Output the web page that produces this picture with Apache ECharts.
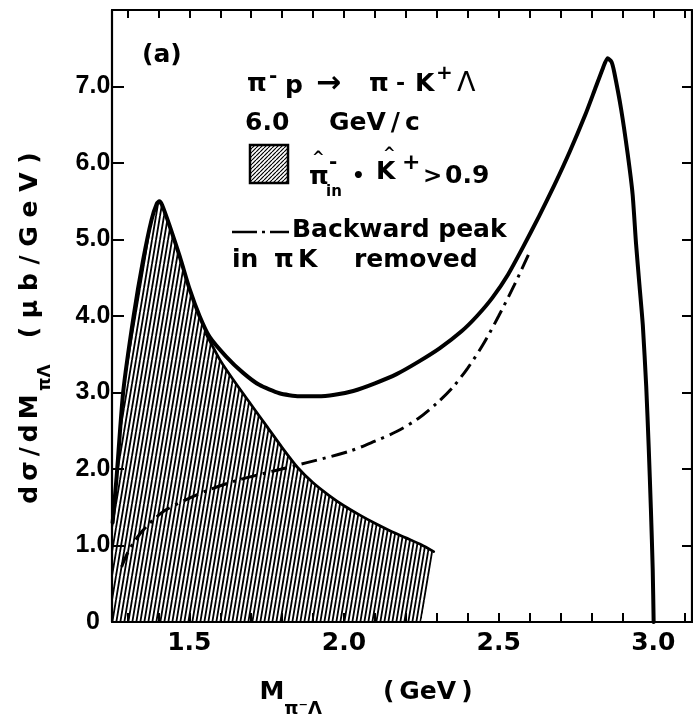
<!DOCTYPE html>
<html><head><meta charset="utf-8">
<script src="https://cdn.jsdelivr.net/npm/echarts@6/dist/echarts.min.js"></script>
<style>html,body{margin:0;padding:0;background:#fff}#c{width:693px;height:723px}</style>
</head><body><div id="c"></div>
<script>
// ---- data ----
const totalM = [1.252,1.265,1.286,1.32,1.351,1.378,1.395,1.403,1.412,1.437,1.469,1.501,1.533,1.565,1.619,1.673,1.726,1.791,1.855,1.914,1.97,2.03,2.10,2.17,2.24,2.31,2.38,2.43,2.48,2.53,2.58,2.63,2.68,2.73,2.78,2.81,2.837,2.852,2.865,2.874,2.896,2.917,2.933,2.944,2.955,2.966,2.977,2.985,2.992,2.998,3.001];
const totalS = [1.3,1.9,3.0,4.0,4.74,5.26,5.47,5.50,5.45,5.17,4.78,4.35,4.00,3.73,3.47,3.26,3.10,2.99,2.95,2.95,2.97,3.02,3.12,3.24,3.40,3.58,3.80,4.00,4.24,4.54,4.91,5.30,5.71,6.15,6.63,6.95,7.24,7.37,7.32,7.18,6.70,6.12,5.59,4.95,4.41,3.88,3.08,2.29,1.49,0.69,0];
const hatchM = [1.25,1.252,1.265,1.286,1.32,1.351,1.378,1.395,1.403,1.412,1.437,1.469,1.501,1.533,1.555,1.60,1.65,1.70,1.75,1.80,1.85,1.90,1.95,2.00,2.05,2.10,2.15,2.20,2.25,2.29,2.25];
const hatchS = [0,1.3,1.9,3.0,4.0,4.74,5.26,5.47,5.50,5.45,5.17,4.78,4.35,4.00,3.76,3.42,3.12,2.84,2.56,2.28,2.02,1.82,1.66,1.52,1.40,1.29,1.19,1.10,1.01,0.92,0];
const backM = [1.281,1.30,1.319,1.34,1.362,1.39,1.426,1.49,1.565,1.662,1.769,1.877,2.016,2.098,2.17,2.24,2.30,2.35,2.40,2.45,2.50,2.55,2.596];
const backS = [0.72,0.90,1.03,1.15,1.25,1.36,1.47,1.60,1.73,1.86,1.97,2.08,2.23,2.36,2.49,2.66,2.86,3.06,3.32,3.63,4.00,4.40,4.80];
const xTickValues = [1.3,1.4,1.5,1.6,1.7,1.8,1.9,2.0,2.1,2.2,2.3,2.4,2.5,2.6,2.7,2.8,2.9,3.0,3.1];
const xLabelValues = [1.5,2.0,2.5,3.0];
const yTickValues = [0,1,2,3,4,5,6,7];

function pairs(a,b){return a.map((v,i)=>[v,b[i]]);}
function hatchCanvas(w,h,lw){
  const c=document.createElement('canvas');c.width=w;c.height=h;
  const g=c.getContext('2d');g.strokeStyle='#000';g.lineWidth=lw;
  for(let o=-w;o<=w;o+=w){g.beginPath();g.moveTo(o,h);g.lineTo(o+w,0);g.stroke();}
  return c;
}
const areaPat={image:hatchCanvas(4,24,1.8),repeat:'repeat'};
const boxPat={image:hatchCanvas(4,4,1.2),repeat:'repeat'};

const F='DejaVu Sans';
const TS='\u2009';
function T(x,y,text,size,opt){
  opt=opt||{};
  return {type:'text',x:x,y:y,z:50,style:Object.assign({text:text,fontSize:size||25,fontFamily:F,fontWeight:'bold',fill:'#000',
    align:'left',verticalAlign:'middle',textAlign:'left',textVerticalAlign:'middle'},opt)};
}

const chart=echarts.init(document.getElementById('c'),null,{renderer:'canvas'});
const axisLineStyle={color:'#000',width:2.2};
const hatchEdge=pairs(hatchM,hatchS).slice(14,hatchM.length-1);

chart.setOption({
  animation:false,
  backgroundColor:'#fff',
  grid:{left:112,right:1,top:10,bottom:101,containLabel:false},
  xAxis:[{
    type:'value',position:'bottom',min:1.25,max:3.125,
    axisLine:{show:true,onZero:false,lineStyle:axisLineStyle},
    axisTick:{show:true,inside:true,length:9,customValues:xTickValues,lineStyle:{color:'#000',width:2}},
    axisLabel:{show:true,customValues:xLabelValues,formatter:v=>v.toFixed(1),fontSize:25,fontFamily:F,fontWeight:'bold',color:'#000',margin:9},
    splitLine:{show:false},
    name:'{a|M}{s|π⁻Λ}{a|       ('+TS+'GeV'+TS+')}{p|}',
    nameLocation:'middle',nameGap:58,
    nameTextStyle:{rich:{
      a:{fontSize:25,fontFamily:F,fontWeight:'bold',color:'#000',lineHeight:26,verticalAlign:'top'},
      s:{fontSize:18,fontFamily:F,fontWeight:'bold',color:'#000',lineHeight:38,verticalAlign:'bottom'},
      p:{width:72}
    }}
  },{
    type:'value',position:'top',min:1.25,max:3.125,
    axisLine:{show:true,onZero:false,lineStyle:axisLineStyle},
    axisTick:{show:true,inside:true,length:8,customValues:xTickValues,lineStyle:{color:'#000',width:2}},
    axisLabel:{show:false},splitLine:{show:false}
  }],
  yAxis:[{
    type:'value',position:'left',min:0,max:8,interval:1,
    axisLine:{show:true,onZero:false,lineStyle:axisLineStyle},
    axisTick:{show:true,inside:true,length:12,lineStyle:{color:'#000',width:2}},
    axisLabel:{show:true,customValues:yTickValues,formatter:v=>v===0?'0':v.toFixed(1),fontSize:25,fontFamily:'Liberation Sans',fontWeight:'bold',
      color:'#000',align:'center',margin:19},
    splitLine:{show:false},
    name:'{a|d'+TS+'σ'+TS+'/'+TS+'d'+TS+'M}{s|'+TS+'πΛ}{a|   ( μ b / G e V )}{p|}',
    nameLocation:'middle',nameRotate:90,nameGap:58,
    nameTextStyle:{rich:{
      a:{fontSize:25,fontFamily:F,fontWeight:'bold',color:'#000',lineHeight:26,verticalAlign:'top'},
      s:{fontSize:17,fontFamily:F,fontWeight:'bold',color:'#000',lineHeight:36,verticalAlign:'bottom'},
      p:{width:24}
    }}
  },{
    type:'value',position:'right',min:0,max:8,interval:1,
    axisLine:{show:true,onZero:false,lineStyle:axisLineStyle},
    axisTick:{show:true,inside:true,length:10,lineStyle:{color:'#000',width:2}},
    axisLabel:{show:false},splitLine:{show:false}
  }],
  series:[
    {type:'line',name:'hatch',data:pairs(hatchM,hatchS),showSymbol:false,symbol:'none',z:1,smooth:0.2,
      lineStyle:{width:0,opacity:0},areaStyle:{color:areaPat,opacity:1},silent:true},
    {type:'line',name:'hatchEdge',data:hatchEdge,showSymbol:false,symbol:'none',z:2,smooth:0.2,
      lineStyle:{color:'#000',width:2.8,join:'round',cap:'round'},silent:true},
    {type:'line',name:'total',data:pairs(totalM,totalS),showSymbol:false,symbol:'none',z:3,smooth:0.2,
      lineStyle:{color:'#000',width:4,join:'round',cap:'round'},silent:true},
    {type:'line',name:'backward',data:pairs(backM,backS),showSymbol:false,symbol:'none',z:3,smooth:0.3,
      lineStyle:{color:'#000',width:3,type:[16,6,3,6]},silent:true}
  ],
  graphic:[
    T(142,55,'(a)',25),
    // row 1
    T(247,84,'π',25),
    T(269,77,'-',20),
    T(285,86,'p',25),
    T(316,84,'→',30),
    T(369,84,'π',25),
    T(396,84,'-',22),
    T(415,84,'K',25),
    T(436,74,'+',20),
    T(457,84,'Λ',27,{fontWeight:'normal'}),
    // row 2
    T(245,123,'6.0',25),
    T(329,123,'GeV'+TS+'/'+TS+'c',25),
    // row 3
    {type:'rect',z:50,shape:{x:250,y:145,width:38,height:38},style:{fill:boxPat,stroke:'#000',lineWidth:2.5}},
    T(309,177,'π',25),
    T(312,158,'^',15),
    T(329,163,'-',20),
    T(326,192,'in',15),
    T(352,177,'•',20),
    T(376,172,'K',25),
    T(383,154,'^',15),
    T(402,163,'+',22),
    T(423,177,'>',23),
    T(445,176,'0.9',25),
    // row 4
    {type:'line',z:50,shape:{x1:232,y1:232,x2:289,y2:232},style:{stroke:'#000',lineWidth:2.5,lineDash:[25,5,3,5]}},
    T(292,230,'Backward peak',25),
    // row 5
    T(232,260,'in',25),
    T(274,260,'π',25),
    T(298,260,'K',25),
    T(354,260,'removed',25)
  ]
});
</script></body></html>
